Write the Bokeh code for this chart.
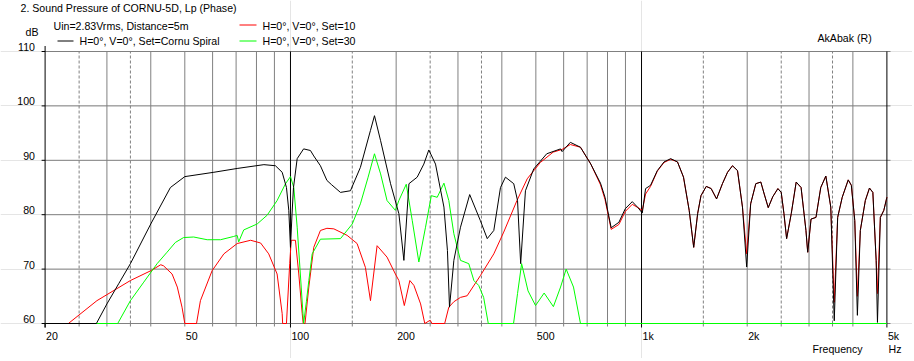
import numpy as np
from bokeh.plotting import figure
from bokeh.models import Range1d
from bokeh.core.properties import value
from bokeh.embed import file_html
from bokeh.resources import INLINE

# ---------------- data ----------------
freq_black = [20, 28, 30, 32.4, 35, 40, 45.5, 50, 60.5, 70.5, 84, 90.6, 94.7, 97.4, 98.9, 100, 101, 102,
              104.5, 109, 114, 116.5, 121.7, 127, 131, 138.8, 148.2, 158.2, 169, 173.5, 180.6, 192.8,
              203.6, 210.4, 217.5, 229.6, 239.8, 247.8, 258.9, 273.6, 280, 283.8, 292, 305, 324, 347.5,
              363.5, 379.5, 396.5, 409.6, 432.5, 443.4, 452.6, 467, 493, 537, 588, 594, 627, 670, 717,
              764, 787, 819.5, 862, 899, 941, 977, 1005, 1027, 1061, 1109, 1159, 1211, 1266, 1317, 1367,
              1408, 1445, 1477, 1529, 1579, 1636, 1700, 1758, 1816, 1877, 1939, 1993, 2046, 2116, 2187,
              2236, 2296, 2365, 2446, 2500, 2545, 2590, 2670, 2758, 2848, 2940, 2974, 3040, 3140, 3240,
              3350, 3460, 3540, 3620, 3730, 3880, 3960, 4050, 4120, 4200, 4340, 4460, 4560, 4660, 4700,
              4790, 4900, 5000]
db_black = [60, 60, 63.6, 67.3, 71, 78.3, 85, 87, 87.8, 88.5, 89.2, 89, 87.8, 85, 80.8, 74, 80, 85,
            90.3, 92.1, 91.8, 90.8, 89, 86.3, 85.5, 84.1, 84.4, 88.7, 95.5, 98.2, 93.6, 85.7,
            80.2, 71.6, 85.7, 86.9, 89.3, 91.9, 89.3, 81.4, 73.4, 63, 71.6, 77.7, 83.7, 78.9,
            75.6, 77.1, 85, 86.9, 85.7, 82.6, 71, 84.4, 88.4, 91.2, 92.1, 91.6, 93.3, 92.4, 89.3,
            85.8, 83.2, 77.6, 78.6, 81.1, 82.4, 81.3, 80.3, 84.8, 85.4, 88.1, 89.7, 90.3, 89.7, 86.9, 80.8,
            74, 80.2, 83.5, 85.2, 84.8, 82.9, 85.7, 87.8, 89, 88.1, 81.4, 70.4, 82, 85.7, 86,
            83.8, 81.3, 83.3, 84.8, 84.1, 80.2, 75.6, 80.2, 86, 85, 77.1, 73.1, 79.2, 79.5, 85,
            87.1, 81.4, 60.5, 79.5, 83.2, 86.4, 85.4, 78.9, 61.5, 77.1, 82.6, 84.9, 84.1, 71.6, 60.2,
            79.5, 80.8, 83.2]

freq_red = [20, 23.3, 28.1, 35, 40, 42.7, 43.5, 46, 47.6, 49.1, 50, 54, 55.4, 59.8, 64.6, 70.5, 77,
            82.2, 86.7, 91.6, 94.7, 95, 97.4, 99.5, 100.5, 103.3, 105.6, 108, 108.7, 110, 112.8, 116.5,
            121.7, 127, 132.9, 145, 154.8, 163.5, 169, 176.5, 188.4, 199, 203.6, 211, 218.8, 224.7,
            234.8, 241.3, 250, 253, 275, 282.5, 292, 305, 318.6, 347.5, 379.5, 405, 441.7, 472.5, 515,
            560, 594, 627, 670, 717, 764, 787, 819.5, 862, 899, 941, 977, 1005, 1027, 1061, 1109, 1159,
            1211, 1266, 1317, 1367, 1408, 1445, 1477, 1529, 1579, 1636, 1700, 1758, 1816, 1877, 1939,
            1993, 2046, 2116, 2187, 2236, 2296, 2365, 2446, 2500, 2545, 2590, 2670, 2758, 2848, 2940,
            2974, 3040, 3140, 3240, 3350, 3460, 3540, 3620, 3730, 3880, 3960, 4050, 4120, 4200, 4340,
            4460, 4560, 4660, 4700, 4790, 4900, 5000]
db_red = [60, 60, 64.2, 67.9, 69.7, 70.8, 70.6, 69.1, 66.7, 63, 60, 60, 64.2, 69.7, 72.8, 74.7, 75.3,
          74.8, 72.8, 69.1, 61.8, 60, 60, 71, 75.3, 75.3, 69.1, 61.8, 60, 60, 66.7, 74,
          77.1, 77.5, 77.4, 76.2, 74.7, 70.3, 64.2, 74.3, 72.2, 69.1, 67.9, 63.3, 67.9, 67,
          63.6, 60, 60.6, 60, 60, 63, 64, 64.8, 65.1, 68.8, 72.8, 76.8, 82.6, 86.6, 89.6,
          91.5, 92, 92.9, 92.4, 89.3, 85.5, 82.8, 77.3, 78.2, 80.6, 81.9, 81.3, 80.8, 83.8, 85.2, 88, 89.6,
          90.2, 89.7, 86.9, 80.8, 74, 80.2, 83.5, 85.2, 84.8, 82.9, 85.7, 87.8, 89, 88.1, 81.4,
          72.8, 82, 85.7, 86, 83.8, 81.3, 83.3, 84.8, 84.1, 80.2, 75.6, 80.2, 86, 85, 77.1,
          73.1, 79.2, 79.5, 85, 87.1, 81.4, 63.9, 79.5, 83.2, 86.4, 85.4, 78.9, 65, 77.1, 82.6,
          84.9, 84.1, 71.6, 65.5, 79.5, 80.8, 83.2]

freq_green = [20, 32.2, 35, 38.2, 41.7, 44.5, 47, 49.6, 53, 57.9, 63.2, 68.9, 70.5, 71.2, 73.6, 80.4,
              85.8, 91.6, 96.8, 100, 102.2, 104.5, 107.3, 109, 111, 112.8, 115.3, 121.7, 138.8, 150,
              158.2, 166.4, 173.5, 180.6, 188.4, 199, 203.6, 213.7, 222.3, 232.1, 242.5, 251.9, 261.8,
              273.6, 282.5, 292, 305, 322, 333, 343.7, 355, 366, 432, 443.4, 455.5, 475, 499, 528, 561,
              588, 610, 640, 670, 5000]
db_green = [60, 60, 64.2, 67.6, 71, 73.1, 74.9, 75.8, 75.9, 75.4, 75.4, 76, 76.2, 75, 77.2, 78.3,
            79.9, 82.6, 85.7, 87, 85, 77.7, 66.7, 60, 64, 67.9, 72.8, 75.5, 75.6, 78.3,
            82, 86.9, 91.2, 87.5, 82.6, 80.8, 82.6, 85.6, 78.9, 71.3, 77.7, 83.5, 83.2,
            85.8, 82.6, 76.5, 71.6, 71, 67.9, 67, 64.8, 60, 60, 65.5, 71, 66, 63.3, 65.6, 63.1,
            66.7, 70, 66.7, 60, 60]

y_ticks = [60, 70, 80, 90, 100, 110]
x_major_ticks = [20, 100, 1000, 5000]
x_solid_grid = [30, 40, 50, 60, 70, 80, 90, 200, 300, 400, 500, 600, 700, 800, 900, 2000, 3000, 4000]
x_dashed_grid = [25, 35, 150, 250, 350, 1500, 2500, 3500]
x_black_grid = [100, 1000, 5000]
x_label_freqs = [20, 50, 100, 200, 500, 1000, 2000, 5000]
x_label_texts = ["20", "50", "100", "200", "500", "1k", "2k", "5k"]

title_text = "2. Sound Pressure of CORNU-5D, Lp (Phase)"
info_text = "Uin=2.83Vrms, Distance=5m"
series_names = ["H=0°, V=0°, Set=Cornu Spiral", "H=0°, V=0°, Set=10", "H=0°, V=0°, Set=30"]

# ---------------- geometry (page pixels) ----------------
W, H = 912, 358
F0, F1 = 20, 5000
V_LO, V_HI = 60, 110
X_F0, X_F1 = 44.6, 886.4      # pixel x of 20 Hz and 5 kHz
Y_HI, Y_LO = 51.0, 323.0      # pixel y of 110 dB and 60 dB
LOG_SPAN = np.log10(F1 / F0)


def fx(px):
    return 10 ** (np.log10(F0) + (px - X_F0) / (X_F1 - X_F0) * LOG_SPAN)


def dy(py):
    return V_HI - (py - Y_HI) * (V_HI - V_LO) / (Y_LO - Y_HI)


def py_of(v):
    return Y_HI + (V_HI - v) * (Y_LO - Y_HI) / (V_HI - V_LO)


FONT = value("Liberation Sans")
FSIZE = value("10.6px")
GRAY = "#808080"

p = figure(width=W, height=H, x_axis_type="log",
           x_range=Range1d(fx(0), fx(W)), y_range=Range1d(dy(H), dy(0)),
           x_axis_location=None, y_axis_location=None, min_border=0,
           output_backend="svg", toolbar_location=None)
p.outline_line_color = None
p.background_fill_color = "white"
p.border_fill_color = "white"

# grid
n = len(y_ticks)
p.segment(x0=[F0] * n, x1=[fx(890)] * n, y0=y_ticks, y1=y_ticks, line_color=GRAY, line_width=1)
n = len(x_solid_grid)
p.segment(x0=x_solid_grid, x1=x_solid_grid, y0=[V_LO] * n, y1=[V_HI] * n, line_color=GRAY, line_width=1)
n = len(x_dashed_grid)
p.segment(x0=x_dashed_grid, x1=x_dashed_grid, y0=[V_LO] * n, y1=[V_HI] * n, line_color=GRAY,
          line_width=1, line_dash="3 2")
n = len(x_black_grid)
p.segment(x0=x_black_grid, x1=x_black_grid, y0=[V_LO] * n, y1=[V_HI] * n, line_color="black", line_width=1)

# axis line and ticks
p.segment(x0=[F0], x1=[F0], y0=[dy(327)], y1=[dy(45.5)], line_color="black", line_width=1)
minor = x_solid_grid + x_dashed_grid
p.segment(x0=minor, x1=minor, y0=[V_LO] * len(minor), y1=[dy(Y_LO + 3)] * len(minor),
          line_color=GRAY, line_width=1)
p.segment(x0=x_major_ticks, x1=x_major_ticks, y0=[V_LO] * 4, y1=[dy(Y_LO + 4)] * 4,
          line_color="black", line_width=1)
n = len(y_ticks)
p.segment(x0=[fx(X_F0 - 3.5)] * n, x1=[F0] * n, y0=y_ticks, y1=y_ticks, line_color="black", line_width=1)

# curves
p.line(freq_red, db_red, line_color="#FF0000", line_width=1)
p.line(freq_green, db_green, line_color="#00FF00", line_width=1)
p.line(freq_black, db_black, line_color="#000000", line_width=1)

# tick labels
p.text(x=[fx(34.5)] * len(y_ticks), y=[dy(py_of(v) - 4.5) for v in y_ticks],
       text=[str(v) for v in y_ticks], text_align="right", text_baseline="middle",
       text_font=FONT, text_font_size=FSIZE, text_color="black")
p.text(x=x_label_freqs, y=[dy(335.7)] * len(x_label_freqs), x_offset=1, text=x_label_texts,
       text_align="left", text_baseline="middle", text_font=FONT, text_font_size=FSIZE,
       text_color="black")

# other texts (page pixel positions)
texts = [(20, 7.5, title_text), (25, 31.7, "dB"), (53, 25.5, info_text),
         (79, 40, series_names[0]), (262, 25.5, series_names[1]), (262, 40, series_names[2]),
         (817, 37, "AkAbak (R)"), (812, 348.3, "Frequency"), (888, 348.3, "Hz")]
p.text(x=[fx(t[0]) for t in texts], y=[dy(t[1]) for t in texts], text=[t[2] for t in texts],
       text_align="left", text_baseline="middle", text_font=FONT, text_font_size=FSIZE,
       text_color="black")

# legend line samples
samples = [(57, 73, 40.5, "#000000"), (239, 256, 24.5, "#FF0000"), (239, 256, 40.5, "#00FF00")]
p.segment(x0=[fx(s[0]) for s in samples], x1=[fx(s[1]) for s in samples],
          y0=[dy(s[2]) for s in samples], y1=[dy(s[2]) for s in samples],
          line_color=[s[3] for s in samples], line_width=1)

open("out.html", "w").write(file_html(p, INLINE))
